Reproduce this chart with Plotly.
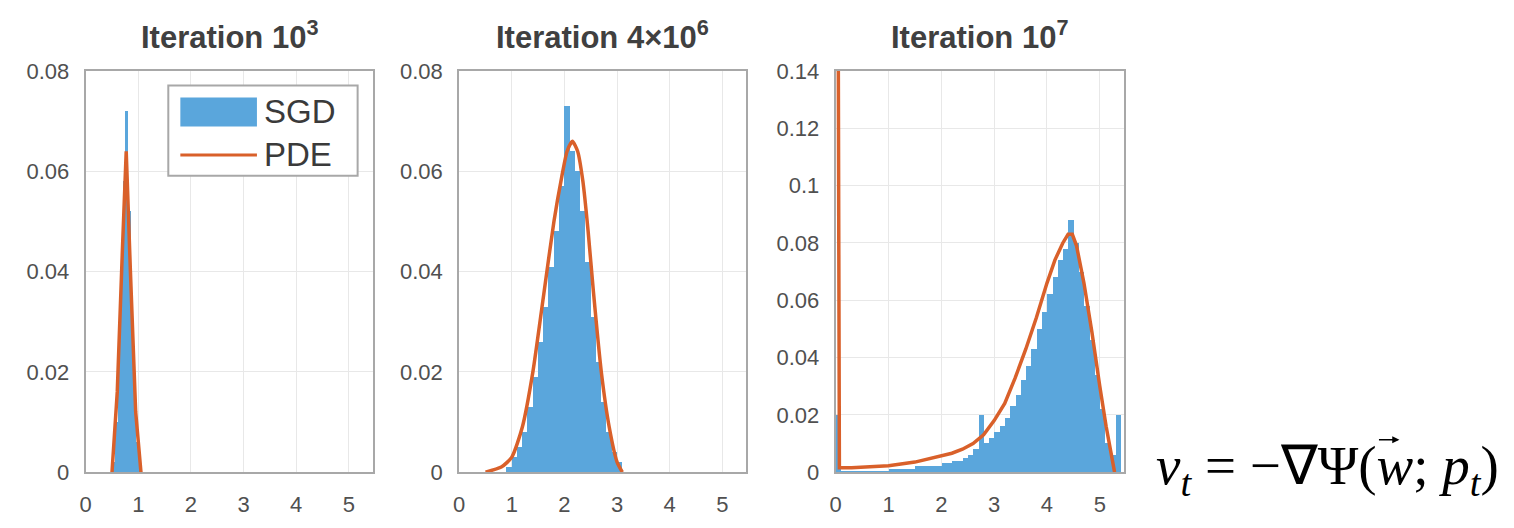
import plotly.graph_objects as go
from plotly.subplots import make_subplots

# ---------------- data ----------------
titles = ["Iteration 10<sup>3</sup>", "Iteration 4×10<sup>6</sup>", "Iteration 10<sup>7</sup>"]
x_ticks = [0, 1, 2, 3, 4, 5]
x_tick_text = ["0", "1", "2", "3", "4", "5"]
y_ticks_a = [0, 0.02, 0.04, 0.06, 0.08]
y_tick_text_a = ["0", "0.02", "0.04", "0.06", "0.08"]
y_ticks_c = [0, 0.02, 0.04, 0.06, 0.08, 0.10, 0.12, 0.14]
y_tick_text_c = ["0", "0.02", "0.04", "0.06", "0.08", "0.1", "0.12", "0.14"]

# iteration 1e3: SGD histogram (bin width 0.05) and PDE density
sgd1_bin_width = 0.05
sgd1_x = [0.525, 0.575, 0.625, 0.675, 0.725, 0.775, 0.825, 0.875, 0.925, 0.975, 1.025]
sgd1_y = [0.002, 0.010, 0.024, 0.040, 0.058, 0.072, 0.052, 0.034, 0.018, 0.006, 0.001]
pde1_x = [0.50, 0.60, 0.70, 0.77, 0.85, 0.95, 1.05]
pde1_y = [0.000, 0.016, 0.045, 0.064, 0.040, 0.012, 0.000]

# iteration 4e6
sgd2_bin_width = 0.1
sgd2_x = [0.95, 1.05, 1.15, 1.25, 1.35, 1.45, 1.55, 1.65, 1.75, 1.85, 1.95,
          2.05, 2.15, 2.25, 2.35, 2.45, 2.55, 2.65, 2.75, 2.85, 2.95, 3.05]
sgd2_y = [0.001, 0.003, 0.005, 0.008, 0.013, 0.019, 0.026, 0.033, 0.041, 0.048, 0.057,
          0.073, 0.064, 0.060, 0.052, 0.042, 0.031, 0.022, 0.014, 0.008, 0.004, 0.002]
pde2_x = [0.50, 0.80, 1.00, 1.20, 1.40, 1.60, 1.80, 1.95, 2.05, 2.15, 2.25, 2.35,
          2.45, 2.55, 2.70, 2.85, 3.00, 3.10]
pde2_y = [0.000, 0.001, 0.003, 0.009, 0.020, 0.035, 0.050, 0.059, 0.064, 0.066, 0.064, 0.058,
          0.048, 0.036, 0.020, 0.009, 0.002, 0.000]

# iteration 1e7
sgd3_bin_width = 0.1
sgd3_x = [0.05, 0.15, 0.25, 0.35, 0.45, 0.55, 0.65, 0.75, 0.85, 0.95,
          1.05, 1.15, 1.25, 1.35, 1.45, 1.55, 1.65, 1.75, 1.85, 1.95,
          2.05, 2.15, 2.25, 2.35, 2.45, 2.55, 2.65, 2.75, 2.85, 2.95,
          3.05, 3.15, 3.25, 3.35, 3.45, 3.55, 3.65, 3.75, 3.85, 3.95,
          4.05, 4.15, 4.25, 4.35, 4.45, 4.55, 4.65, 4.75, 4.85, 4.95,
          5.05, 5.15, 5.25, 5.35]
sgd3_y = [0.020, 0.0005, 0.0005, 0.0005, 0.0005, 0.0005, 0.0005, 0.0005, 0.0005, 0.0005,
          0.001, 0.001, 0.001, 0.001, 0.001, 0.002, 0.002, 0.002, 0.002, 0.002,
          0.003, 0.003, 0.004, 0.004, 0.005, 0.006, 0.008, 0.020, 0.010, 0.012,
          0.014, 0.016, 0.019, 0.023, 0.027, 0.032, 0.037, 0.043, 0.050, 0.056,
          0.062, 0.068, 0.074, 0.078, 0.088, 0.080, 0.070, 0.058, 0.046, 0.034,
          0.022, 0.010, 0.006, 0.020]
pde3_x = [0.05, 0.07, 0.30, 0.60, 1.00, 1.50, 2.00, 2.20, 2.40, 2.60, 2.80, 3.00, 3.20, 3.40,
          3.60, 3.80, 4.00, 4.15, 4.30, 4.40, 4.48, 4.56, 4.70, 4.85, 5.00, 5.12, 5.28]
pde3_y = [0.140, 0.0015, 0.0015, 0.0018, 0.0022, 0.0035, 0.0055, 0.0066, 0.008, 0.010, 0.013, 0.018, 0.024, 0.033,
          0.043, 0.054, 0.066, 0.074, 0.080, 0.083, 0.083, 0.079, 0.066, 0.049, 0.030, 0.016, 0.000]

formula = "<i>v</i><sub><i>t</i></sub> = −∇Ψ(<i>w</i>; <i>p</i><sub><i>t</i></sub>)"

# ---------------- styling ----------------
W, H = 1514, 528
BLUE = "#5aa6dc"
ORANGE = "#d9602a"
FRAME = "#a8a8a8"
GRID = "#e8e8e8"
SANS = "Liberation Sans, Arial, sans-serif"
SERIF = "Liberation Serif, Times New Roman, serif"
TICK_FONT = dict(family=SANS, size=22, color="#505050")

# panel frames in pixels (left, right), shared top/bottom
panels_px = [(80, 368), (455, 743), (833, 1122)]
top_px, bottom_px = 62, 483

fig = make_subplots(rows=1, cols=3)

series = [
    (sgd1_x, sgd1_y, sgd1_bin_width, pde1_x, pde1_y, "linear"),
    (sgd2_x, sgd2_y, sgd2_bin_width, pde2_x, pde2_y, "spline"),
    (sgd3_x, sgd3_y, sgd3_bin_width, pde3_x, pde3_y, "linear"),
]
for i, (hx, hy, bw, px, py, shape) in enumerate(series, start=1):
    fig.add_trace(go.Bar(x=hx, y=hy, width=[bw] * len(hx), marker=dict(color=BLUE, line=dict(width=0)),
                         name="SGD", showlegend=False), row=1, col=i)
    fig.add_trace(go.Scatter(x=px, y=py, mode="lines",
                             line=dict(color=ORANGE, width=3.5, shape=shape, smoothing=0.6),
                             name="PDE", showlegend=False), row=1, col=i)

y_dom = [1 - bottom_px / H, 1 - top_px / H]
for i, (l, r) in enumerate(panels_px, start=1):
    fig.update_xaxes(domain=[l / W, r / W], range=[0, 5.45], tickvals=x_ticks, ticktext=x_tick_text,
                     showline=True, mirror=True, linecolor=FRAME, linewidth=2,
                     showgrid=True, gridcolor=GRID, gridwidth=1, zeroline=False,
                     ticks="", ticklabelstandoff=11, tickfont=TICK_FONT, row=1, col=i)
    if i < 3:
        yt, ytt, yr = y_ticks_a, y_tick_text_a, [0, 0.08]
    else:
        yt, ytt, yr = y_ticks_c, y_tick_text_c, [0, 0.14]
    fig.update_yaxes(domain=y_dom, range=yr, tickvals=yt, ticktext=ytt,
                     showline=True, mirror=True, linecolor=FRAME, linewidth=2,
                     showgrid=True, gridcolor=GRID, gridwidth=1, zeroline=False,
                     ticks="", ticklabelstandoff=10, tickfont=TICK_FONT, row=1, col=i)
    fig.add_annotation(text="<b>" + titles[i - 1] + "</b>", xref="paper", yref="paper",
                       x=(l + r) / 2 / W, y=1 - 24 / H, xanchor="center", yanchor="middle",
                       showarrow=False, font=dict(family=SANS, size=31, color="#404040"))

# legend box drawn inside the first panel
leg_font = dict(family=SANS, size=33, color="#3a3a3a")
fig.add_shape(type="rect", xref="x domain", yref="y domain", x0=0.288, x1=0.948, y0=0.739, y1=0.964,
              line=dict(color=FRAME, width=2), fillcolor="white", layer="above")
fig.add_shape(type="rect", xref="x domain", yref="y domain", x0=0.33, x1=0.597, y0=0.862, y1=0.934,
              line=dict(width=0), fillcolor=BLUE, layer="above")
fig.add_shape(type="line", xref="x domain", yref="y domain", x0=0.33, x1=0.597, y0=0.791, y1=0.791,
              line=dict(color=ORANGE, width=3), layer="above")
fig.add_annotation(text="SGD", xref="x domain", yref="y domain", x=0.615, y=0.898,
                   xanchor="left", yanchor="middle", showarrow=False, font=leg_font)
fig.add_annotation(text="PDE", xref="x domain", yref="y domain", x=0.615, y=0.791,
                   xanchor="left", yanchor="middle", showarrow=False, font=leg_font)

# update rule shown beside the panels
fig.add_annotation(text=formula, xref="paper", yref="paper", x=1327 / W, y=1 - 480 / H,
                   xanchor="center", yanchor="middle", showarrow=False,
                   font=dict(family=SERIF, size=55, color="#000000"))
# vector arrow over w
fig.add_annotation(text="", xref="paper", yref="paper", x=1399 / W, y=1 - 449 / H,
                   ax=-22, ay=0, showarrow=True, arrowhead=2, arrowsize=0.9, arrowwidth=1.6,
                   arrowcolor="#000000")

fig.update_layout(width=W, height=H, margin=dict(l=0, r=0, t=0, b=0),
                  paper_bgcolor="white", plot_bgcolor="white", bargap=0, barmode="overlay",
                  showlegend=False)

fig.write_html("out.html")
